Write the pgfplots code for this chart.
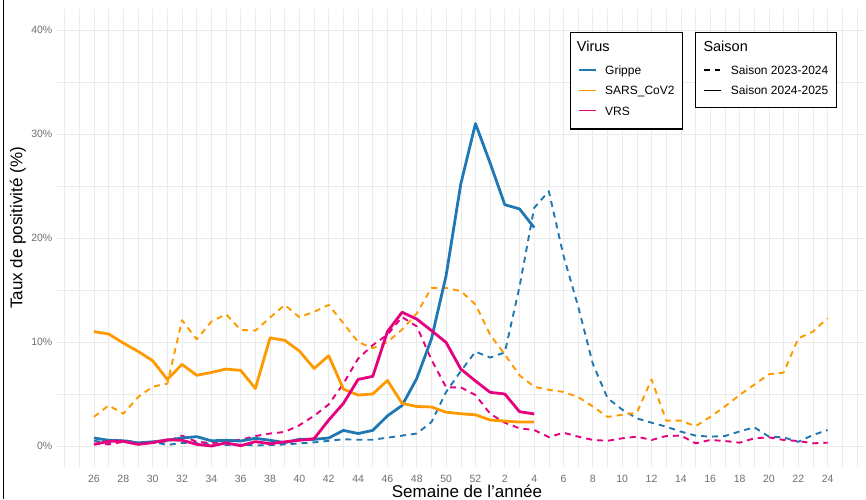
\documentclass[border=0pt]{standalone}
\usepackage{fontspec}
\setmainfont{Liberation Sans}
\usepackage{pgfplots}
\pgfplotsset{compat=1.18}
\definecolor{cgrippe}{RGB}{31,120,180}
\definecolor{csars}{RGB}{255,153,0}
\definecolor{cvrs}{RGB}{230,0,126}
\definecolor{cgrid}{RGB}{235,235,235}
\definecolor{ctick}{RGB}{110,110,110}

\begin{document}
\begin{tikzpicture}
\path[use as bounding box] (-57.3pt,-32.2pt) rectangle (808.7pt,466.8pt);
\begin{axis}[
  at={(0pt,0pt)}, anchor=south west,
  scale only axis, width=807pt, height=457.6pt,
  xmin=-2.5, xmax=52.5, ymin=-2, ymax=42,
  xtick={0,2,4,6,8,10,12,14,16,18,20,22,24,26,28,30,32,34,36,38,40,42,44,46,48,50},
  xticklabels={26,28,30,32,34,36,38,40,42,44,46,48,50,52,2,4,6,8,10,12,14,16,18,20,22,24},
  minor xtick={-2,-1,1,3,5,7,9,11,13,15,17,19,21,23,25,27,29,31,33,35,37,39,41,43,45,47,49,51,52},
  ytick={0,10,20,30,40},
  yticklabels={0\%,10\%,20\%,30\%,40\%},
  minor ytick={5,15,25,35},
  grid=both,
  major grid style={cgrid, line width=0.8pt},
  minor grid style={cgrid, line width=0.6pt},
  axis line style={draw=none},
  major tick length=0pt, minor tick length=0pt,
  tick label style={font=\fontsize{10.5}{12}\selectfont, text=ctick},
  xticklabel style={yshift=-5pt},
  yticklabel style={xshift=-1.5pt},
  xlabel={Semaine de l'année},
  ylabel={Taux de positivité (\%)},
  label style={font=\fontsize{17}{20}\selectfont},
  xlabel style={at={(axis description cs:0.5077,-0.0525)}, anchor=center},
  ylabel style={at={(axis description cs:-0.0487,0.522)}, anchor=center},
  every axis plot/.append style={line join=round},
]
% ---- Saison 2023-2024 (dashed)
\addplot[cgrippe, line width=1.9pt, dash pattern=on 6pt off 5pt] coordinates {
(0,0.5)(1,0.3)(2,0.6)(3,0.3)(4,0.4)(5,0.1)(6,0.3)(7,0.3)(8,0.2)(9,0.1)(10,0.15)
(11,0.05)(12,0.1)(13,0.15)(14,0.25)(15,0.35)(16,0.5)(17,0.65)(18,0.6)(19,0.6)(20,0.8)
(21,1.0)(22,1.2)(23,2.3)(24,5.2)(25,7.2)(26,9.07)(27,8.5)(28,9.0)(29,15.3)(30,22.9)
(31,24.5)(32,18.3)(33,13.4)(34,7.9)(35,4.6)(36,3.5)(37,2.66)(38,2.24)(39,1.86)(40,1.38)
(41,1.0)(42,0.9)(43,0.96)(44,1.4)(45,1.8)(46,0.9)(47,0.83)(48,0.4)(49,1.06)(50,1.54)};
\addplot[csars, line width=1.9pt, dash pattern=on 6pt off 5pt] coordinates {
(0,2.8)(1,3.9)(2,3.1)(3,4.7)(4,5.7)(5,6.0)(6,12.1)(7,10.26)(8,11.96)(9,12.67)(10,11.16)
(11,11.1)(12,12.35)(13,13.57)(14,12.38)(15,12.9)(16,13.57)(17,11.8)(18,10.0)(19,9.4)(20,10.0)
(21,11.2)(22,12.75)(23,15.2)(24,15.2)(25,14.9)(26,13.6)(27,10.7)(28,8.8)(29,6.8)(30,5.7)
(31,5.4)(32,5.2)(33,4.7)(34,3.8)(35,2.8)(36,3.0)(37,3.2)(38,6.4)(39,2.44)(40,2.44)
(41,1.9)(42,2.8)(43,3.8)(44,4.9)(45,5.9)(46,6.9)(47,7.05)(48,10.35)(49,11.0)(50,12.3)};
\addplot[cvrs, line width=1.9pt, dash pattern=on 6pt off 5pt] coordinates {
(0,0.2)(1,0.16)(2,0.4)(3,0.16)(4,0.3)(5,0.45)(6,1.0)(7,0.4)(8,0.3)(9,0.5)(10,0.6)
(11,0.96)(12,1.2)(13,1.35)(14,2.0)(15,2.9)(16,4.0)(17,6.0)(18,8.4)(19,9.7)(20,10.7)
(21,12.4)(22,11.5)(23,8.3)(24,5.64)(25,5.64)(26,4.9)(27,3.1)(28,2.24)(29,1.7)(30,1.54)
(31,0.85)(32,1.28)(33,0.9)(34,0.58)(35,0.5)(36,0.74)(37,0.9)(38,0.58)(39,0.96)(40,1.0)
(41,0.26)(42,0.58)(43,0.48)(44,0.32)(45,0.74)(46,0.83)(47,0.58)(48,0.48)(49,0.26)(50,0.32)};
% ---- Saison 2024-2025 (solid)
\addplot[cgrippe, line width=2.8pt] coordinates {
(0,0.77)(1,0.55)(2,0.5)(3,0.3)(4,0.4)(5,0.55)(6,0.77)(7,0.9)(8,0.5)(9,0.55)(10,0.48)
(11,0.74)(12,0.55)(13,0.32)(14,0.64)(15,0.64)(16,0.77)(17,1.5)(18,1.2)(19,1.5)(20,2.9)
(21,3.9)(22,6.5)(23,10.3)(24,16.4)(25,25.2)(26,31.0)(27,27.2)(28,23.2)(29,22.8)(30,21.0)};
\addplot[csars, line width=2.8pt] coordinates {
(0,11.0)(1,10.77)(2,9.9)(3,9.1)(4,8.2)(5,6.4)(6,7.85)(7,6.8)(8,7.07)(9,7.4)(10,7.27)
(11,5.53)(12,10.4)(13,10.16)(14,9.13)(15,7.46)(16,8.68)(17,5.47)(18,4.9)(19,5.0)(20,6.3)
(21,4.1)(22,3.8)(23,3.75)(24,3.25)(25,3.1)(26,3.0)(27,2.5)(28,2.4)(29,2.3)(30,2.3)};
\addplot[cvrs, line width=2.8pt] coordinates {
(0,0.16)(1,0.45)(2,0.45)(3,0.16)(4,0.32)(5,0.6)(6,0.55)(7,0.16)(8,0.0)(9,0.3)(10,0.03)
(11,0.42)(12,0.22)(13,0.4)(14,0.55)(15,0.7)(16,2.5)(17,4.1)(18,6.4)(19,6.7)(20,11.0)
(21,12.86)(22,12.2)(23,11.1)(24,9.95)(25,7.4)(26,6.25)(27,5.16)(28,5.0)(29,3.3)(30,3.08)};
\end{axis}
\begin{scope}[shift={(-57.3pt,466.8pt)}, x=1pt, y=-1pt]
\draw[line width=1pt] (4,0) -- (4,499);
% Virus legend
\draw[line width=1.2pt, fill=white] (570.7,32.3) rectangle (682.7,129);
\node[anchor=base west, inner sep=0, font=\fontsize{14.5}{16}\selectfont] at (576.7,51.2) {Virus};
\draw[cgrippe, line width=1.5pt] (579,70) -- (596,70);
\draw[csars, line width=1.5pt] (579,90.7) -- (596,90.7);
\draw[cvrs, line width=1.5pt] (579,110.7) -- (596,110.7);
\node[anchor=base west, inner sep=0, font=\fontsize{12}{14}\selectfont] at (605,74.3) {Grippe};
\node[anchor=base west, inner sep=0, font=\fontsize{12}{14}\selectfont] at (605,95) {SARS\_CoV2};
\node[anchor=base west, inner sep=0, font=\fontsize{12}{14}\selectfont] at (605,115) {VRS};
% Saison legend
\draw[line width=1.2pt, fill=white] (695.7,32.3) rectangle (836.7,107.7);
\node[anchor=base west, inner sep=0, font=\fontsize{14.5}{16}\selectfont] at (703.3,51.2) {Saison};
\draw[line width=1.5pt, dash pattern=on 5.5pt off 5pt] (704,70) -- (720.7,70);
\draw[line width=1.5pt] (704,90.7) -- (720.7,90.7);
\node[anchor=base west, inner sep=0, font=\fontsize{12}{14}\selectfont] at (730.7,74.3) {Saison 2023-2024};
\node[anchor=base west, inner sep=0, font=\fontsize{12}{14}\selectfont] at (730.7,95) {Saison 2024-2025};
\end{scope}
\end{tikzpicture}
\end{document}
